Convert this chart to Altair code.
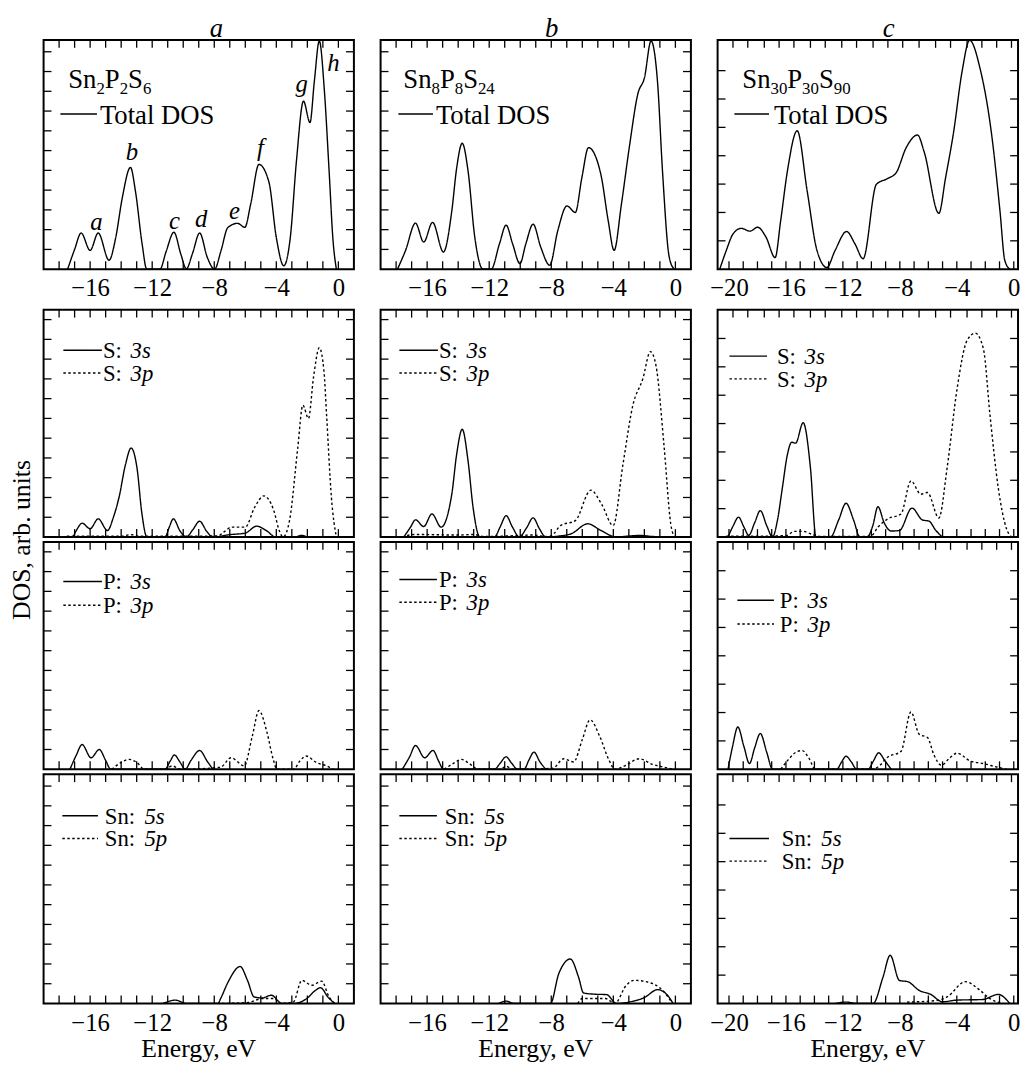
import altair as alt
import pandas as pd

FONT = "Liberation Serif, Times New Roman, serif"

# ---------------- data (E in eV, DOS in tick units) ----------------
# Column a: Sn2P2S6
A_TOT_E = [-17.45, -17.0, -16.58, -16.0, -15.48, -14.78, -14.35, -13.93, -13.4, -13.08,
           -12.65, -12.35, -11.5, -11.1, -10.6, -10.15, -9.8, -9.4, -8.94, -8.45,
           -7.98, -7.56, -7.13, -6.5, -6.03, -5.65, -5.12, -4.48, -4.0, -3.52,
           -3.1, -2.7, -2.25, -1.83, -1.55, -1.23, -0.9, -0.6, -0.35, -0.13]
A_TOT_Y = [0, 1.0, 1.83, 0.95, 1.83, 0.45, 1.6, 3.6, 5.15, 3.95,
           1.28, 0, 0, 0.9, 1.87, 0.75, 0.02, 0.8, 1.83, 0.6,
           0, 0.95, 2.1, 2.32, 2.12, 3.3, 5.3, 4.42, 1.6, 0.17,
           1.6, 5.5, 8.5, 7.42, 9.5, 11.55, 9.0, 5.0, 1.5, 0]
A_S3S_E = [-17.1, -16.8, -16.52, -16.0, -15.48, -14.88, -14.5, -14.14, -13.72, -13.36,
           -12.98, -12.66, -12.34, -11.17, -10.9, -10.64, -10.2, -9.8, -9.4, -8.94,
           -8.5, -8.09, -7.0, -6.0, -5.27, -4.6, -4.05, -2.8, -2.4, -2.0]
A_S3S_Y = [0, 0.45, 0.7, 0.42, 0.92, 0.33, 1.0, 2.0, 3.67, 4.5,
           3.5, 1.17, 0, 0, 0.5, 0.92, 0.3, 0, 0.35, 0.8,
           0.3, 0, 0.12, 0.2, 0.55, 0.3, 0, 0, 0.08, 0]
A_S3P_E = [-17.5, -14.0, -13.4, -12.8, -7.8, -7.3, -6.9, -6.0, -5.4, -4.8,
           -4.16, -3.8, -3.57, -3.15, -2.62, -2.29, -1.93, -1.6, -1.23, -0.93,
           -0.76, -0.45, -0.13]
A_S3P_Y = [0.04, 0.04, 0.12, 0.04, 0.05, 0.3, 0.5, 0.5, 1.5, 2.08,
           1.33, 0.3, 0, 0.83, 4.5, 6.67, 6.0, 8.1, 9.58, 8.4,
           6.17, 2.0, 0]
A_P3S_E = [-17.3, -16.9, -16.52, -15.94, -15.41, -15.0, -14.67, -11.17, -10.85, -10.57,
           -10.2, -9.87, -9.5, -8.94, -8.45, -8.09]
A_P3S_Y = [0, 0.7, 1.25, 0.58, 1.0, 0.45, 0, 0, 0.4, 0.72,
           0.35, 0, 0.45, 0.95, 0.4, 0]
A_P3P_E = [-14.6, -14.0, -13.5, -13.0, -12.5, -11.2, -10.7, -10.2, -7.6, -6.92,
           -6.07, -5.55, -5.12, -4.59, -4.2, -3.95, -2.87, -2.5, -2.08, -1.4,
           -0.77, -0.33]
A_P3P_Y = [0, 0.35, 0.5, 0.35, 0, 0, 0.17, 0, 0.1, 0.58,
           0.17, 1.67, 2.97, 1.83, 0.5, 0, 0, 0.4, 0.67, 0.33,
           0.17, 0]
A_SN5S_E = [-11.3, -10.5, -9.8, -7.77, -7.56, -7.13, -6.33, -5.86, -5.43, -4.9,
            -4.33, -3.63, -2.89, -2.04, -1.5, -1.15, -0.68, -0.23]
A_SN5S_Y = [0, 0.17, 0, 0, 0.3, 1.05, 1.87, 1.17, 0.33, 0.28,
            0.42, 0, 0, 0.25, 0.65, 0.8, 0.33, 0]
A_SN5P_E = [-7.5, -5.8, -5.2, -4.9, -4.1, -3.8, -2.9, -2.36, -1.72, -1.08, -0.6, -0.23]
A_SN5P_Y = [0, 0.05, 0.2, 0.25, 0.25, 0, 0.08, 1.17, 0.92, 1.13, 0.33, 0]

# Column b: Sn8P8S24
B_TOT_E = [-17.91, -17.39, -16.75, -16.22, -15.65, -14.95, -14.41, -14.1, -13.74, -13.36,
           -12.93, -12.4, -11.87, -11.34, -10.91, -10.49, -10.02, -9.64, -9.17, -8.68,
           -8.1, -7.58, -6.99, -6.45, -6.03, -5.6, -4.8, -4.33, -3.95, -3.48,
           -2.95, -2.42, -1.99, -1.57, -1.15, -0.83, -0.4, -0.08]
B_TOT_Y = [0, 0.95, 2.33, 1.37, 2.37, 0.87, 2.95, 5.1, 6.37, 4.95,
           1.62, 0, 0, 1.28, 2.23, 1.28, 0.28, 1.28, 2.28, 1.12,
           0.2, 1.95, 3.2, 2.87, 4.62, 6.15, 4.78, 2.45, 0.95, 3.28,
           6.28, 8.87, 9.7, 11.55, 9.45, 4.95, 0.62, 0]
B_S3S_E = [-17.5, -17.07, -16.75, -16.22, -15.69, -15.1, -14.41, -14.1, -13.74, -13.36,
           -13.04, -12.6, -11.66, -11.3, -10.91, -10.5, -10.06, -9.6, -9.17, -8.75,
           -8.36, -7.5, -6.7, -5.65, -4.8, -3.8, -3.0, -2.3, -1.5, -0.5]
B_S3S_Y = [0, 0.5, 0.87, 0.53, 1.17, 0.5, 2.17, 4.17, 5.45, 3.83,
           1.5, 0, 0, 0.5, 1.08, 0.5, 0, 0.45, 0.97, 0.4,
           0, 0.05, 0.17, 0.67, 0.33, 0, 0.05, 0.08, 0.03, 0]
B_S3P_E = [-17.6, -16.8, -14.0, -13.0, -12.4, -10.9, -9.2, -8.2, -7.83, -7.41,
           -6.45, -5.45, -4.76, -4.01, -3.38, -2.74, -2.1, -1.61, -1.25, -0.72,
           -0.3, -0.08]
B_S3P_Y = [0, 0.13, 0.1, 0.13, 0.03, 0.05, 0.1, 0.02, 0.17, 0.58,
           0.83, 2.37, 1.67, 0.58, 3.67, 6.67, 8.0, 9.38, 8.67, 4.5,
           0.67, 0]
B_P3S_E = [-17.6, -17.15, -16.75, -16.16, -15.62, -15.25, -14.95, -11.66, -11.3, -10.91,
           -10.55, -10.17, -9.75, -9.45, -9.11, -8.75, -8.36]
B_P3S_Y = [0, 0.6, 1.2, 0.58, 0.95, 0.4, 0, 0, 0.3, 0.63,
           0.3, 0, 0, 0.45, 0.87, 0.4, 0]
B_P3P_E = [-14.9, -14.3, -13.78, -13.3, -12.7, -11.3, -10.9, -10.5, -7.9, -7.2,
           -6.56, -6.0, -5.5, -4.88, -4.3, -3.9, -3.2, -2.33, -1.48, -0.6, -0.19]
B_P3P_Y = [0, 0.3, 0.5, 0.3, 0, 0, 0.15, 0, 0.05, 0.53,
           0.37, 1.5, 2.5, 1.67, 0.5, 0, 0.2, 0.53, 0.25, 0.08, 0]
B_SN5S_E = [-11.4, -10.9, -10.4, -8.05, -7.52, -6.77, -6.24, -5.92, -5.2, -4.44,
            -3.8, -2.95, -2.0, -1.15, -0.51, -0.15]
B_SN5S_Y = [0, 0.12, 0, 0, 1.5, 2.25, 1.33, 0.53, 0.47, 0.45,
            0, 0.08, 0.3, 0.7, 0.42, 0]
B_SN5P_E = [-6.3, -6.0, -4.5, -3.9, -3.17, -2.63, -1.46, -0.72, -0.19]
B_SN5P_Y = [0, 0.25, 0.25, 0, 0.92, 1.17, 1.0, 0.58, 0]

# Column c: Sn30P30S90
C_TOT_E = [-20.65, -20.19, -19.72, -19.14, -18.52, -17.99, -17.4, -16.76, -16.37, -15.9,
           -15.21, -14.51, -13.82, -13.13, -12.55, -11.74, -11.16, -10.58, -9.65, -8.84,
           -8.26, -7.57, -6.76, -6.3, -5.26, -4.79, -4.22, -3.64, -3.1, -2.36,
           -1.55, -0.97, -0.63, -0.28]
C_TOT_Y = [0, 0.66, 1.24, 1.44, 1.34, 1.48, 1.13, 0.41, 1.71, 3.45,
           4.88, 2.76, 0.66, 0.06, 0.66, 1.33, 0.9, 0.37, 2.99, 3.2,
           3.4, 4.27, 4.73, 4.15, 1.97, 3.22, 4.85, 6.94, 8.07, 7.06,
           4.73, 2.06, 0.31, 0]
C_S3S_E = [-20.07, -19.7, -19.33, -18.95, -18.61, -18.2, -17.8, -17.35, -16.94, -16.6,
           -16.25, -15.9, -15.6, -15.32, -14.79, -14.28, -13.89, -12.87, -12.3, -11.78,
           -11.25, -10.81, -10.3, -9.9, -9.54, -9.1, -8.61, -8.03, -7.15, -6.41,
           -5.95, -5.5, -5.02]
C_S3S_Y = [0, 0.4, 0.7, 0.35, 0.06, 0.5, 0.93, 0.4, 0, 0.58,
           1.74, 2.9, 3.34, 3.31, 4.03, 2.44, 0, 0, 0.6, 1.19,
           0.6, 0, 0, 0.4, 1.07, 0.5, 0.21, 0.23, 1.02, 0.6,
           0.56, 0.25, 0]
C_S3P_E = [-20.2, -18.0, -16.0, -15.4, -14.8, -14.2, -13.6, -12.0, -10.5, -9.99,
           -9.54, -8.84, -7.92, -7.22, -6.53, -6.06, -5.26, -4.68, -3.98, -3.29,
           -2.71, -2.13, -1.67, -1.09, -0.51, -0.16]
C_S3P_Y = [0.03, 0.03, 0.05, 0.2, 0.2, 0.1, 0.02, 0.02, 0.02, 0.05,
           0.35, 0.64, 0.81, 1.98, 1.51, 1.57, 0.67, 2.44, 5.23, 6.92,
           7.19, 6.63, 4.3, 1.74, 0.29, 0]
C_P3S_E = [-20.07, -19.75, -19.38, -18.95, -18.56, -18.2, -17.8, -17.35, -16.94, -12.43,
           -12.1, -11.78, -11.4, -11.04, -10.23, -9.85, -9.49, -9.05, -8.61]
C_P3S_Y = [0, 0.8, 1.49, 0.8, 0.2, 0.75, 1.26, 0.6, 0, 0,
           0.25, 0.46, 0.25, 0, 0, 0.3, 0.58, 0.3, 0]
C_P3P_E = [-16.36, -15.78, -15.3, -14.86, -14.4, -13.93, -9.99, -9.54, -8.84, -7.92,
           -7.22, -6.64, -6.06, -5.6, -5.09, -4.5, -3.98, -3.06, -2.13, -1.2, -0.5]
C_P3P_Y = [0, 0.37, 0.6, 0.66, 0.4, 0, 0, 0.08, 0.43, 0.63,
           2.02, 1.23, 1.12, 0.5, 0.14, 0.4, 0.57, 0.29, 0.2, 0.08, 0]
C_SN5S_E = [-12.5, -11.8, -11.0, -9.88, -9.19, -8.68, -8.03, -7.45, -6.64, -5.83,
            -5.02, -3.98, -2.2, -1.09, -0.28]
C_SN5S_Y = [0, 0.05, 0, 0, 0.92, 1.7, 0.81, 0.77, 0.46, 0.32,
            0.06, 0.12, 0.14, 0.32, 0]
C_SN5P_E = [-7.5, -5.5, -4.68, -3.4, -2.36, -1.67, -0.79]
C_SN5P_Y = [0.05, 0.1, 0.23, 0.77, 0.46, 0.17, 0]

# peak letters of the Sn2P2S6 total DOS
PEAK_TXT = ["a", "b", "c", "d", "e", "f", "g", "h"]
PEAK_E = [-15.6, -13.31, -10.57, -8.85, -6.69, -5.03, -2.36, -0.32]
PEAK_Y = [2.4, 5.93, 2.43, 2.53, 2.93, 6.13, 9.38, 10.43]

# axis ticks / labels
AB_XLABELS = [-16, -12, -8, -4, 0]
C_XLABELS = [-20, -16, -12, -8, -4, 0]
AB_XTICKS = list(range(-18, 1))
C_XTICKS = list(range(-20, 1))
C_TOP_XTICKS = [-19.72, -18.68, -17.52, -16.48, -15.44, -14.28, -13.24, -12.08, -11.04, -9.88,
                -8.84, -7.8, -6.65, -5.49, -4.44, -3.28, -2.24, -1.2, -0.16]
AB_YTICKS = list(range(1, 12))
C_YTICKS = list(range(1, 8))

COL_LETTERS = {"a": "a", "b": "b", "c": "c"}
FORMULAS = {
    "a": [("Sn", 0), ("2", 1), ("P", 0), ("2", 1), ("S", 0), ("6", 1)],
    "b": [("Sn", 0), ("8", 1), ("P", 0), ("8", 1), ("S", 0), ("24", 1)],
    "c": [("Sn", 0), ("30", 1), ("P", 0), ("30", 1), ("S", 0), ("90", 1)],
}
ROW_CURVES = {
    0: [("Total DOS", "solid")],
    1: [("S3s", "solid"), ("S3p", "dot")],
    2: [("P3s", "solid"), ("P3p", "dot")],
    3: [("Sn5s", "solid"), ("Sn5p", "dot")],
}
LEGEND_TEXT = {1: [("S:", "3s"), ("S:", "3p")],
               2: [("P:", "3s"), ("P:", "3p")],
               3: [("Sn:", "5s"), ("Sn:", "5p")]}
CURVES = {
    ("a", 0): [(A_TOT_E, A_TOT_Y)], ("b", 0): [(B_TOT_E, B_TOT_Y)], ("c", 0): [(C_TOT_E, C_TOT_Y)],
    ("a", 1): [(A_S3S_E, A_S3S_Y), (A_S3P_E, A_S3P_Y)],
    ("b", 1): [(B_S3S_E, B_S3S_Y), (B_S3P_E, B_S3P_Y)],
    ("c", 1): [(C_S3S_E, C_S3S_Y), (C_S3P_E, C_S3P_Y)],
    ("a", 2): [(A_P3S_E, A_P3S_Y), (A_P3P_E, A_P3P_Y)],
    ("b", 2): [(B_P3S_E, B_P3S_Y), (B_P3P_E, B_P3P_Y)],
    ("c", 2): [(C_P3S_E, C_P3S_Y), (C_P3P_E, C_P3P_Y)],
    ("a", 3): [(A_SN5S_E, A_SN5S_Y), (A_SN5P_E, A_SN5P_Y)],
    ("b", 3): [(B_SN5S_E, B_SN5S_Y), (B_SN5P_E, B_SN5P_Y)],
    ("c", 3): [(C_SN5S_E, C_SN5S_Y), (C_SN5P_E, C_SN5P_Y)],
}

# ---------------- layout ----------------
W = {"a": 314, "b": 314, "c": 304}
XDOM = {"a": [-19, 1], "b": [-19, 1], "c": [-20.8, 0.3]}
PPU = {"a": 20.0, "b": 20.0, "c": 28.7}
HROW = [232, 230, 230, 232]
TICK = 8
LW = 1.4
LEG_FS = 23
# legend: (line x1, line x2, [line y per entry], text x)
LEG = {
    (0, "a"): (17, 54, [75], 57), (0, "b"): (18, 53, [75], 56), (0, "c"): (17, 52, [75], 57),
    (1, "a"): (20, 59, [41, 64], 60), (1, "b"): (19, 58, [41, 64], 59), (1, "c"): (12, 50, [47, 70], 60),
    (2, "a"): (20, 59, [40, 64], 60), (2, "b"): (19, 57, [38, 61], 59), (2, "c"): (20, 57, [59, 83], 63),
    (3, "a"): (19, 55, [42, 65], 62), (3, "b"): (19, 57, [42, 65], 65), (3, "c"): (12, 52, [65, 88], 65),
}
FORMULA_POS = {"a": (25, 49), "b": (23, 49), "c": (25, 49)}
LETTER_X = {"a": 175, "b": 173, "c": 173}
CW = {"S": 0.556, "n": 0.5, "P": 0.556}
MINUS_EXPR = "datum.value < 0 ? '\u2212' + format(-datum.value, 'd') : format(datum.value, 'd')"

ONE = alt.Data(values=[{}])


def txt(s, x, y, size=25, italic=False, align="left", baseline="alphabetic", angle=0):
    return alt.Chart(ONE).mark_text(
        text=s, font=FONT, fontSize=size, fontStyle="italic" if italic else "normal",
        align=align, baseline=baseline, color="black", angle=angle
    ).encode(x=alt.value(x), y=alt.value(y))


def legline(x1, x2, y, dotted):
    return alt.Chart(ONE).mark_rule(
        color="black", strokeWidth=LW, strokeDash=[2.5, 2.5] if dotted else [1, 0]
    ).encode(x=alt.value(x1), x2=alt.value(x2), y=alt.value(y))


def panel(col, row):
    w, h = W[col], HROW[row]
    xs = alt.Scale(domain=XDOM[col], nice=False, zero=False)
    ys = alt.Scale(domain=[0, h / PPU[col]], nice=False, zero=False)
    if row in (0, 3):
        xaxis = alt.Axis(values=C_XLABELS if col == "c" else AB_XLABELS, title=None,
                         ticks=False, tickSize=0, domain=False, grid=False,
                         labelFont=FONT, labelFontSize=25, labelColor="black",
                         labelExpr=MINUS_EXPR,
                         labelPadding=7, labelFlush=False, labelOverlap=False)
    else:
        xaxis = None

    def X():
        return alt.X("E:Q", scale=xs, axis=xaxis)

    def Y():
        return alt.Y("Y:Q", scale=ys, axis=None)

    rows = []
    for (ev, yv), (name, style) in zip(CURVES[(col, row)], ROW_CURVES[row]):
        for e, y in zip(ev, yv):
            rows.append({"E": e, "Y": y, "series": name, "style": style})
    df = pd.DataFrame(rows)
    layers = [
        alt.Chart(df).mark_line(interpolate="monotone", color="black", strokeWidth=LW, clip=True).encode(
            x=X(), y=Y(), detail="series:N",
            strokeDash=alt.StrokeDash("style:N", scale=alt.Scale(domain=["solid", "dot"], range=[[1, 0], [2.5, 2.5]]), legend=None),
        )
    ]
    xt = pd.DataFrame({"E": C_XTICKS if col == "c" else AB_XTICKS})
    xt_top = pd.DataFrame({"E": C_TOP_XTICKS}) if col == "c" else xt
    yt = pd.DataFrame({"Y": C_YTICKS if col == "c" else AB_YTICKS})
    rule = dict(color="black", strokeWidth=1.3)
    layers += [
        alt.Chart(xt_top).mark_rule(**rule).encode(x=X(), y=alt.value(0), y2=alt.value(TICK)),
        alt.Chart(xt).mark_rule(**rule).encode(x=X(), y=alt.value(h), y2=alt.value(h - TICK)),
        alt.Chart(yt).mark_rule(**rule).encode(y=Y(), x=alt.value(0), x2=alt.value(TICK)),
        alt.Chart(yt).mark_rule(**rule).encode(y=Y(), x=alt.value(w), x2=alt.value(w - TICK)),
    ]
    x1, x2, ly, tx = LEG[(row, col)]
    if row == 0:
        fx, fy = FORMULA_POS[col]
        xx = fx
        for s, sub in FORMULAS[col]:
            size = 17 if sub else 27
            layers.append(txt(s, xx, fy + (6 if sub else 0), size))
            xx += sum(CW.get(ch, 0.5) for ch in s) * size
        layers.append(legline(x1, x2, ly[0], False))
        layers.append(txt("Total DOS", tx, ly[0] + 10, 27))
        layers.append(txt(COL_LETTERS[col], LETTER_X[col], -11, 27, italic=True, align="center", baseline="middle"))
        if col == "a":
            pk = pd.DataFrame({"E": PEAK_E, "Y": PEAK_Y, "t": PEAK_TXT})
            layers.append(alt.Chart(pk).mark_text(font=FONT, fontSize=25, fontStyle="italic", align="center",
                                                  baseline="middle", color="black").encode(x=X(), y=Y(), text="t:N"))
    else:
        off = 40 if row == 3 else 28
        for i, ((pre, it), (_, style)) in enumerate(zip(LEGEND_TEXT[row], ROW_CURVES[row])):
            layers.append(legline(x1, x2, ly[i], style == "dot"))
            layers.append(txt(pre, tx, ly[i] + 8, LEG_FS))
            layers.append(txt(it, tx + off, ly[i] + 8, LEG_FS, italic=True))
    if row == 1 and col == "a":
        layers.append(txt("DOS, arb. units", -22, 233, 26, align="center", baseline="middle", angle=270))
    if row == 3:
        layers.append(txt("Energy, eV", w / 2, h + 46, 26, align="center", baseline="middle"))
    return alt.layer(*layers).properties(width=w, height=h)


def spacer(col):
    return alt.Chart(ONE, view=alt.ViewBackground(stroke="transparent")).mark_point(opacity=0).encode(
        x=alt.value(0), y=alt.value(0)).properties(width=W[col], height=31)


cells = [panel(c, 0) for c in "abc"] + [spacer(c) for c in "abc"]
for r in (1, 2, 3):
    cells += [panel(c, r) for c in "abc"]

chart = alt.concat(*cells, columns=3, spacing={"row": 5, "column": 27}, bounds="flush", align="each")
chart = chart.configure_view(stroke="black", strokeWidth=2).properties(
    padding={"left": 0, "top": 0, "right": 0, "bottom": 0})
chart.save("out.html", embed_options={"renderer": "svg", "actions": False})
